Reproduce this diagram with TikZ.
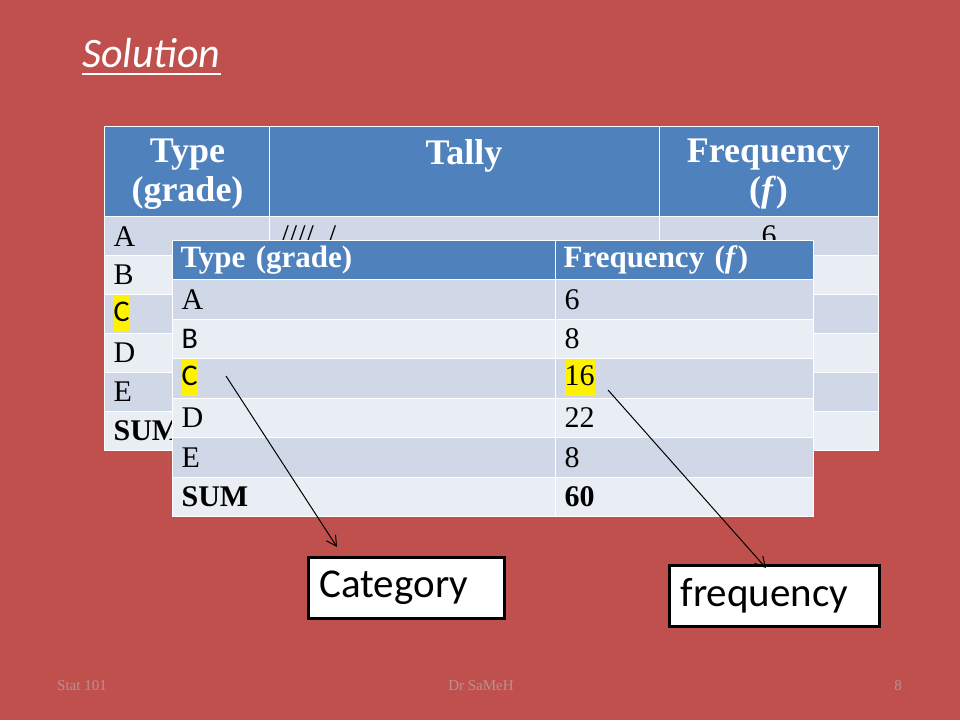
\documentclass[tikz,border=0pt]{standalone}
\usepackage{fontspec}
\setmainfont{Liberation Serif}
\newfontfamily\calibri{Carlito}
\usetikzlibrary{arrows.meta}
\definecolor{slidered}{RGB}{192,80,77}
\definecolor{headblue}{RGB}{79,129,189}
\definecolor{rowdark}{RGB}{208,216,232}
\definecolor{rowlight}{RGB}{233,237,244}
\definecolor{footgray}{RGB}{184,146,146}
\newcommand{\bodyfont}{\fontsize{30}{36}\selectfont}
\newcommand{\hilite}[1]{{\setlength{\fboxsep}{0pt}\colorbox{yellow}{\strut #1}}}
\tikzset{
  cell/.style={anchor=north west, draw=white, line width=1.2pt, inner xsep=9pt, inner ysep=0pt, align=left, font=\bodyfont},
  headcell/.style={cell, fill=headblue, text=white, font=\fontsize{31}{34}\selectfont\bfseries},
  darkrow/.style={cell, fill=rowdark},
  lightrow/.style={cell, fill=rowlight},
  headtext/.style={anchor=north, inner sep=0pt, align=center, text=white, font=\fontsize{36}{39}\selectfont\bfseries},
  notebox/.style={anchor=north west, draw=black, line width=3pt, fill=white, inner xsep=11pt, inner ysep=0pt, align=left, font=\calibri\fontsize{41}{45}\selectfont},
  pointer/.style={-{Straight Barb[length=10pt,width=11pt]}, line width=1pt},
  foot/.style={inner sep=0pt, text=footgray, font=\fontsize{15}{18}\selectfont}
}
\begin{document}
\begin{tikzpicture}[x=1pt,y=-1pt]
  \useasboundingbox (0,0) rectangle (960,720);
  \fill[slidered] (0,0) rectangle (960,720);

  % Marking title Solution
  \node[anchor=base west, inner sep=0pt, text=white, font=\calibri\itshape\fontsize{42}{46}\selectfont] (title) at (82,67) {Solution};
  \draw[white, line width=2.5pt] ([yshift=-7pt]title.base west) -- ([yshift=-7pt]title.base east);

  % Drawing back table, header
  \node[headcell, minimum width=165pt, minimum height=90pt] (bh1) at (104,126) {};
  \node[headcell, minimum width=390pt, minimum height=90pt] (bh2) at (269,126) {};
  \node[headcell, minimum width=219pt, minimum height=90pt] (bh3) at (659,126) {};
  \node[headtext] (bh1t) at (187.5,139) {Type\\(grade)};
  \node[headtext] (bh2t) at (464,139) {Tally};
  \node[headtext] (bh3t) at (768.5,139) {Frequency\\(\textit{f})};

  % Drawing back table, rows
  \node[darkrow, text width=147pt, minimum height=39pt] (bA1) at (104,216) {A};
  \node[darkrow, text width=368pt, minimum height=39pt, inner xsep=11pt] (bA2) at (269,216) {////\hspace{14pt}/};
  \node[darkrow, text width=201pt, minimum height=39pt, align=center] (bA3) at (659,216) {6};
  \node[lightrow, text width=147pt, minimum height=39pt] (bB1) at (104,255) {B};
  \node[lightrow, text width=372pt, minimum height=39pt] (bB2) at (269,255) {};
  \node[lightrow, text width=201pt, minimum height=39pt] (bB3) at (659,255) {};
  \node[darkrow, text width=147pt, minimum height=39pt] (bC1) at (104,294) {\hilite{\calibri C}};
  \node[darkrow, text width=372pt, minimum height=39pt] (bC2) at (269,294) {};
  \node[darkrow, text width=201pt, minimum height=39pt] (bC3) at (659,294) {};
  \node[lightrow, text width=147pt, minimum height=39pt] (bD1) at (104,333) {D};
  \node[lightrow, text width=372pt, minimum height=39pt] (bD2) at (269,333) {};
  \node[lightrow, text width=201pt, minimum height=39pt] (bD3) at (659,333) {};
  \node[darkrow, text width=147pt, minimum height=39pt] (bE1) at (104,372) {E};
  \node[darkrow, text width=372pt, minimum height=39pt] (bE2) at (269,372) {};
  \node[darkrow, text width=201pt, minimum height=39pt] (bE3) at (659,372) {};
  \node[lightrow, text width=147pt, minimum height=39pt] (bS1) at (104,411) {\textbf{SUM}};
  \node[lightrow, text width=372pt, minimum height=39pt] (bS2) at (269,411) {};
  \node[lightrow, text width=201pt, minimum height=39pt] (bS3) at (659,411) {};

  % Drawing front table, header
  \node[headcell, text width=367pt, minimum height=39pt, inner xsep=8pt] (fh1) at (172,240) {Type (grade)};
  \node[headcell, text width=242pt, minimum height=39pt, inner xsep=8pt] (fh2) at (555,240) {Frequency (\textit{f})};

  % Drawing front table, rows
  \node[darkrow, text width=365pt, minimum height=39.5pt] (fA1) at (172,279) {A};
  \node[darkrow, text width=240pt, minimum height=39.5pt] (fA2) at (555,279) {6};
  \node[lightrow, text width=365pt, minimum height=39.5pt] (fB1) at (172,318.5) {\calibri B};
  \node[lightrow, text width=240pt, minimum height=39.5pt] (fB2) at (555,318.5) {8};
  \node[darkrow, text width=365pt, minimum height=39.5pt] (fC1) at (172,358) {\hilite{\calibri C}};
  \node[darkrow, text width=240pt, minimum height=39.5pt] (fC2) at (555,358) {\hilite{16}};
  \node[lightrow, text width=365pt, minimum height=39.5pt] (fD1) at (172,397.5) {D};
  \node[lightrow, text width=240pt, minimum height=39.5pt] (fD2) at (555,397.5) {22};
  \node[darkrow, text width=365pt, minimum height=39.5pt] (fE1) at (172,437) {E};
  \node[darkrow, text width=240pt, minimum height=39.5pt] (fE2) at (555,437) {8};
  \node[lightrow, text width=365pt, minimum height=39.5pt] (fS1) at (172,476.5) {\textbf{SUM}};
  \node[lightrow, text width=240pt, minimum height=39.5pt] (fS2) at (555,476.5) {\textbf{60}};

  % Marking boxes Category and frequency
  \node[notebox, text width=174pt, minimum height=61pt] (catbox) at (307,556) {\raisebox{-4pt}{Category}};
  \node[notebox, text width=188pt, minimum height=61pt] (freqbox) at (668,564) {\raisebox{-3pt}{frequency}};

  % Drawing pointers
  \coordinate (catfrom) at (226,376);
  \coordinate (freqfrom) at (608,390);
  \draw[pointer] (catfrom) -- ([xshift=30pt,yshift=9pt]catbox.north west);
  \draw[pointer] (freqfrom) -- ([xshift=98pt,yshift=-4pt]freqbox.north west);

  % Marking footer
  \node[foot, anchor=west] (course) at (57,686) {Stat 101};
  \node[foot] (lecturer) at (481,686) {Dr SaMeH};
  \node[foot] (pageno) at (898,686) {8};
\end{tikzpicture}
\end{document}
